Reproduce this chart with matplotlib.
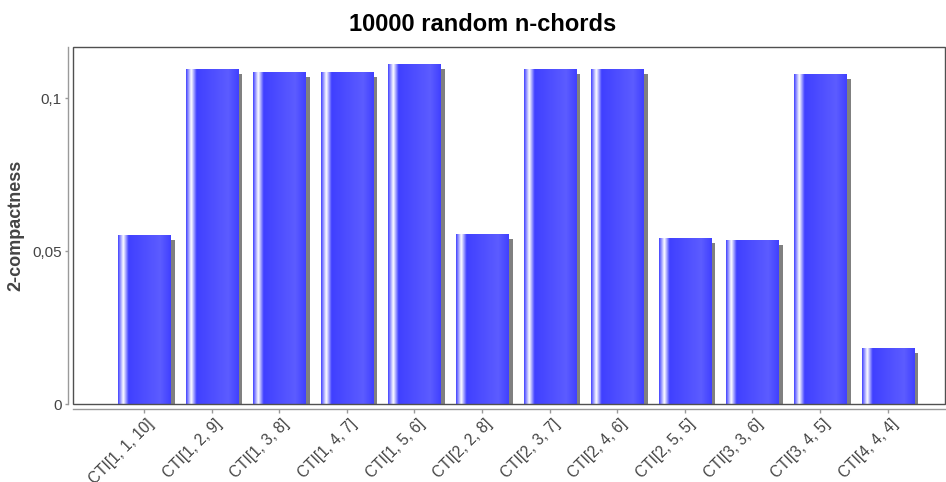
import matplotlib
matplotlib.use('Agg')
import matplotlib.pyplot as plt
import matplotlib.transforms as mtransforms
import numpy as np
from matplotlib.patches import Rectangle

# Chart data
categories = ['CTI[1, 1, 10]', 'CTI[1, 2, 9]', 'CTI[1, 3, 8]', 'CTI[1, 4, 7]',
              'CTI[1, 5, 6]', 'CTI[2, 2, 8]', 'CTI[2, 3, 7]', 'CTI[2, 4, 6]',
              'CTI[2, 5, 5]', 'CTI[3, 3, 6]', 'CTI[3, 4, 5]', 'CTI[4, 4, 4]']
compactness = [0.0550, 0.1093, 0.1086, 0.1086, 0.1112, 0.0556,
               0.1096, 0.1096, 0.0543, 0.0536, 0.1079, 0.0183]
y_ticks = [0, 0.05, 0.1]
y_tick_labels = ['0', '0,05', '0,1']

plt.rcParams['font.family'] = ['Liberation Sans', 'DejaVu Sans']

W, H = 946, 482
fig = plt.figure(figsize=(W / 100, H / 100), dpi=100)
ax = fig.add_axes([73 / W, 78 / H, 872 / W, 357 / H])

# Horizontal gradient like the JFreeChart gradient bar painter
base = np.array([0x40, 0x40, 0xff]) / 255
bright = np.array([0x5c, 0x5c, 0xff]) / 255
white = np.ones(3)
stop_pos = [0.0, 0.10, 0.20, 0.80, 1.0]
stop_col = np.array([base, white, base, bright, base])
t = np.linspace(0, 1, 300)
grad = np.stack([np.interp(t, stop_pos, stop_col[:, c]) for c in range(3)], axis=-1)
grad = grad[np.newaxis, :, :]

bar_width = 0.77
shadow_shift = mtransforms.ScaledTranslation(4.5 / 100, -4.5 / 100, fig.dpi_scale_trans)
x = np.arange(len(categories))
for xi, value in zip(x, compactness):
    left = xi - bar_width / 2
    shadow = Rectangle((left, 0), bar_width, value, facecolor='#808080',
                       edgecolor='none', zorder=2,
                       transform=ax.transData + shadow_shift)
    ax.add_patch(shadow)
    ax.imshow(grad, extent=(left, left + bar_width, 0, value), aspect='auto',
              interpolation='bilinear', zorder=3)

ax.set_xlim((73 - 144) / 67.6, (945 - 144) / 67.6)
ax.set_ylim(0, 0.1168)

# Plot outline plus detached axis lines
ax.add_patch(Rectangle((0, 0), 1, 1, transform=ax.transAxes, fill=False,
                       edgecolor='#505050', linewidth=1.0, zorder=6, clip_on=False))
for side in ['top', 'right']:
    ax.spines[side].set_visible(False)
for side in ['left', 'bottom']:
    ax.spines[side].set_position(('outward', 3.6))
    ax.spines[side].set_color('#9a9a9a')
    ax.spines[side].set_linewidth(1.0)

ax.set_yticks(y_ticks, y_tick_labels)
ax.set_xticks(x, categories, rotation=45, ha='right', va='center',
              rotation_mode='anchor')
ax.tick_params(axis='y', length=2.5, width=1, color='#9a9a9a', pad=2,
               labelsize=11, labelcolor='#444444')
ax.tick_params(axis='x', length=3, width=1, color='#9a9a9a', pad=6,
               labelsize=11.2, labelcolor='#444444')
label_shift = mtransforms.ScaledTranslation(8 / 100, 0, fig.dpi_scale_trans)
for lbl in ax.get_xticklabels():
    lbl.set_transform(lbl.get_transform() + label_shift)

fig.text(16 / W, 1 - 225 / H, '2-compactness', rotation=90, ha='center',
         va='center', fontsize=13, fontweight='bold', color='#444444')
fig.text(482.5 / W, 1 - 31 / H, '10000 random n-chords', ha='center',
         va='baseline', fontsize=17, fontweight='bold', color='black')

fig.savefig('out.png', dpi=100)
